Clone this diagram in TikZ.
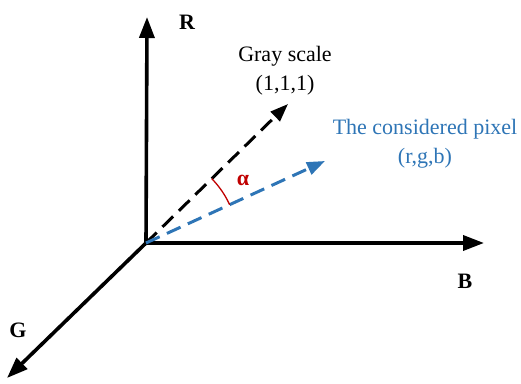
\documentclass[tikz,border=0pt]{standalone}
\usepackage{fontspec}
\setmainfont{Liberation Serif}
\usepackage{xcolor}
\usepackage{tikz}
\usetikzlibrary{arrows.meta}
\definecolor{ink}{HTML}{000000}
\definecolor{pixblu}{HTML}{2E75B6}
\definecolor{angred}{HTML}{C00000}
\tikzset{
  axis/.style  ={-{Triangle[length=21pt,width=15pt]}, line width=3.6pt, draw=ink},
  vec/.style   ={-{Triangle[length=18pt,width=13pt]}, line width=3pt, dash pattern=on 15pt off 8pt},
  axlbl/.style ={font=\fontsize{22}{24}\selectfont\bfseries, text=ink, inner sep=0pt},
  txt/.style   ={font=\fontsize{22}{29}\selectfont, align=center, inner sep=0pt},
}

\begin{document}
\begin{tikzpicture}[x=1pt,y=1pt]
  \useasboundingbox (0,0) rectangle (521,383);
  % axes
  \coordinate (O) at (146,140);
  \coordinate (Rtip) at (147,366);
  \coordinate (Btip) at (484,140);
  \coordinate (Gtip) at (7,5);
  \coordinate (gray) at (288,279);
  \coordinate (pix) at (325,222);
  \draw[axis](O)--(Rtip);
  \draw[axis](O)--(Btip);
  \draw[axis](O)--(Gtip);
  \node[axlbl] (R) at (187,361){R};
  \node[axlbl] (B) at (465,102){B};
  \node[axlbl] (G) at (18,53){G};
  % vectors
  \draw[vec, draw=ink](O)--(gray);
  \draw[vec, draw=pixblu](O)--(pix);
  \node[txt, text=ink] (grayname) at (285,312){Gray scale\\(1,1,1)};
  \node[txt, text=pixblu] (pixname) at (425,239){The considered pixel\\(r,g,b)};
  % angle
  \draw[angred, line width=1.3pt]([shift={(44.4:92pt)}]O) arc[start angle=44.4, end angle=24.6, radius=92pt];
  \node[axlbl, text=angred] (alpha) at (243,203){α};
\end{tikzpicture}
\end{document}
